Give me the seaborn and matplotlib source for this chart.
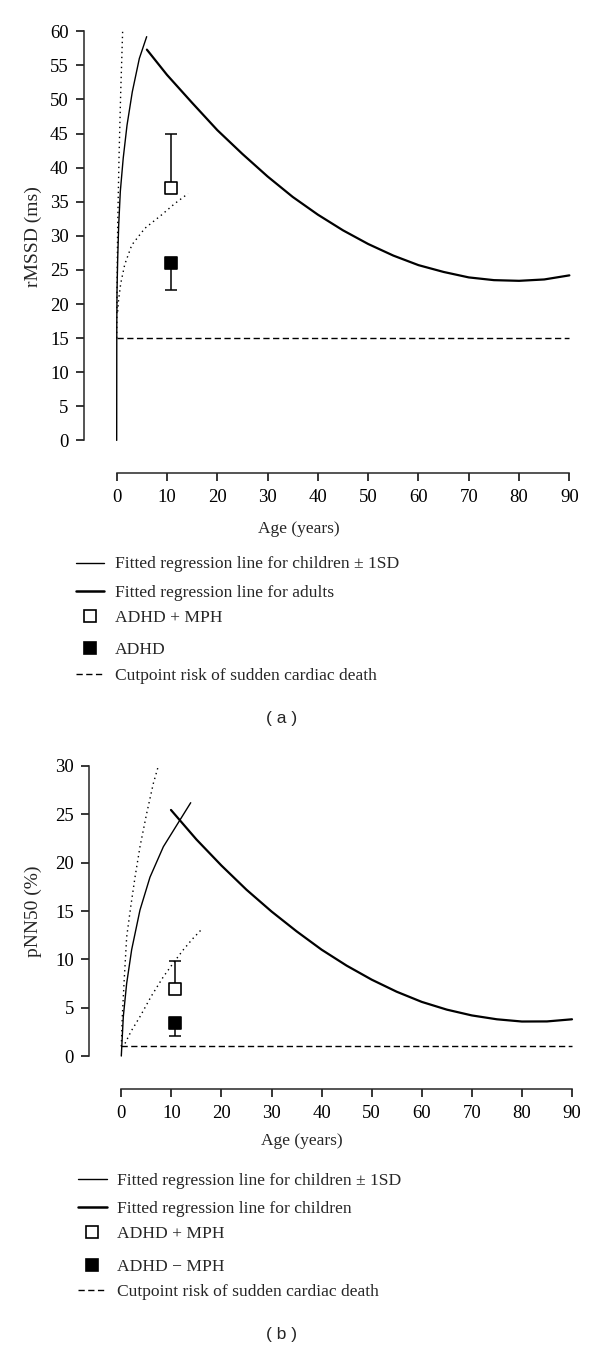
import seaborn as sns
import matplotlib.pyplot as plt
from matplotlib.lines import Line2D

# ---- panel (a): rMSSD ----
child_a_age = [0.0, 0.02, 0.06, 0.2, 0.4, 0.72, 1.3, 2.05, 3.1, 4.5, 5.96]
child_a_fit = [0.0, 16.9, 21.8, 26.7, 31.6, 36.5, 41.4, 46.2, 51.1, 56.0, 59.2]
upper_a_age = [0.0, 0.02, 0.06, 0.2, 0.46, 0.8, 1.19]
upper_a_fit = [15.0, 16.9, 21.8, 31.6, 41.4, 51.1, 60.2]
lower_a_age = [0.2, 0.33, 0.8, 1.6, 3.0, 5.6, 8.9, 11.5, 14.2]
lower_a_fit = [18.9, 20.3, 23.0, 25.8, 28.65, 31.1, 33.05, 34.7, 36.2]
adult_a_age = [6, 10, 15, 20, 25, 30, 35, 40, 45, 50, 55, 60, 65, 70, 75, 80, 85, 90]
adult_a_fit = [57.3, 53.6, 49.5, 45.5, 42.0, 38.7, 35.7, 33.1, 30.8, 28.8,
               27.1, 25.7, 24.7, 23.9, 23.5, 23.4, 23.6, 24.2]
mph_a = 37.0
mph_a_upper = 45.0
adhd_a = 26.0
adhd_a_lower = 22.0
cut_a = 15.0

# ---- panel (b): pNN50 ----
child_b_age = [0.0, 0.4, 1.07, 2.07, 3.73, 5.73, 8.4, 11.7, 13.86]
child_b_fit = [0.0, 4.07, 7.5, 11.0, 15.1, 18.5, 21.65, 24.4, 26.2]
upper_b_age = [0.0, 0.2, 0.54, 1.07, 1.87, 2.74, 3.73, 5.07, 6.4, 7.4]
upper_b_fit = [1.0, 4.07, 7.5, 12.3, 15.4, 18.5, 21.65, 25.1, 28.2, 30.0]
lower_b_age = [0.74, 2.0, 3.73, 6.0, 8.4, 10.5, 12.4, 14.2, 15.85]
lower_b_fit = [1.3, 2.6, 4.07, 6.2, 8.2, 9.7, 11.0, 12.1, 13.0]
adult_b_age = [9.92, 15, 20, 25, 30, 35, 40, 45, 50, 55, 60, 65, 70, 75, 80, 85, 90]
adult_b_fit = [25.45, 22.4, 19.7, 17.2, 14.95, 12.9, 11.0, 9.35, 7.9,
               6.65, 5.6, 4.8, 4.2, 3.8, 3.57, 3.58, 3.8]
mph_b = 6.9
mph_b_upper = 9.85
adhd_b = 3.38
adhd_b_lower = 2.1
cut_b = 1.0

adhd_age = 10.7
cut_age = [0, 90]
age_ticks = list(range(0, 91, 10))

legend_a = ["Fitted regression line for children \u00b1 1SD",
            "Fitted regression line for adults",
            "ADHD + MPH",
            "ADHD",
            "Cutpoint risk of sudden cardiac death"]
legend_b = ["Fitted regression line for children \u00b1 1SD",
            "Fitted regression line for children",
            "ADHD + MPH",
            "ADHD \u2212 MPH",
            "Cutpoint risk of sudden cardiac death"]

sns.set_theme(style="ticks")
plt.rcParams['font.family'] = ['Liberation Serif', 'DejaVu Serif']
plt.rcParams['axes.linewidth'] = 1.1

W, H = 600, 1351
fig = plt.figure(figsize=(W / 100, H / 100), dpi=100)

DOT = (0, (1, 2.6))
DASH = (0, (4.5, 2.5))


def box(left, top, right, bottom):
    return [left / W, 1 - bottom / H, (right - left) / W, (bottom - top) / H]


def draw_panel(ax, child, upper, lower, adult, mph, mph_up, adhd, adhd_lo, cut,
               yticks, ylabel):
    kw = dict(ax=ax, color='black', estimator=None, sort=False, legend=False)
    sns.lineplot(x=child[0], y=child[1], linewidth=1.0, **kw)
    sns.lineplot(x=upper[0], y=upper[1], linewidth=1.0, linestyle=DOT, **kw)
    sns.lineplot(x=lower[0], y=lower[1], linewidth=1.0, linestyle=DOT, **kw)
    sns.lineplot(x=adult[0], y=adult[1], linewidth=1.6, **kw)
    sns.lineplot(x=cut_age, y=[cut, cut], linewidth=1.0, linestyle=DASH, **kw)

    ax.errorbar([adhd_age], [mph], yerr=[[0], [mph_up - mph]], fmt='none',
                ecolor='black', elinewidth=1.1, capsize=4.2, capthick=1.1, zorder=3)
    ax.errorbar([adhd_age], [adhd], yerr=[[adhd - adhd_lo], [0]], fmt='none',
                ecolor='black', elinewidth=1.1, capsize=4.2, capthick=1.1, zorder=3)
    sns.scatterplot(x=[adhd_age], y=[mph], marker='s', s=72, color='white',
                    edgecolor='black', linewidth=1.2, ax=ax, zorder=4, legend=False)
    sns.scatterplot(x=[adhd_age], y=[adhd], marker='s', s=72, color='black',
                    edgecolor='black', linewidth=1.2, ax=ax, zorder=4, legend=False)

    sns.despine(ax=ax)
    ax.spines['left'].set_bounds(yticks[0], yticks[-1])
    ax.spines['bottom'].set_bounds(age_ticks[0], age_ticks[-1])
    ax.set_xticks(age_ticks)
    ax.set_yticks(yticks)
    ax.tick_params(direction='out', length=6, width=1.1, labelsize=13.5,
                   pad=5, colors='black')
    ax.tick_params(axis='x', pad=5.5)
    ax.set_xlabel("Age (years)", fontsize=12.5)
    ax.set_ylabel(ylabel, fontsize=14)
    ax.grid(False)


def draw_legend(labels, rows, x0, x1, xsq, xtext):
    lines = [dict(lw=1.0, ls='-'), dict(lw=1.8, ls='-'), None, None, dict(lw=1.0, ls=DASH)]
    for i, (lab, yp) in enumerate(zip(labels, rows)):
        y = 1 - yp / H
        if i == 2 or i == 3:
            fig.add_artist(Line2D([xsq / W], [y], marker='s', markersize=8.2,
                                  markerfacecolor='white' if i == 2 else 'black',
                                  markeredgecolor='black', markeredgewidth=1.2,
                                  linestyle='none', transform=fig.transFigure))
        else:
            st = lines[i]
            fig.add_artist(Line2D([x0 / W, x1 / W], [y, y], color='black',
                                  linewidth=st['lw'], linestyle=st['ls'],
                                  transform=fig.transFigure))
        fig.text(xtext / W, 1 - (yp + 5.8) / H, lab, fontsize=12.6,
                 ha='left', va='baseline')


# panel (a)
ax_a = fig.add_axes(box(84, 24.4, 574.4, 473))
draw_panel(ax_a, (child_a_age, child_a_fit), (upper_a_age, upper_a_fit),
           (lower_a_age, lower_a_fit), (adult_a_age, adult_a_fit),
           mph_a, mph_a_upper, adhd_a, adhd_a_lower, cut_a,
           list(range(0, 61, 5)), "rMSSD (ms)")
ax_a.set_xlim(-6.5, 91)
ax_a.set_ylim(-4.78, 61)
ax_a.xaxis.set_label_coords(0.4384, -0.107)
ax_a.yaxis.set_label_coords(-0.0856, 0.528)
draw_legend(legend_a, [562.7, 590.7, 615.7, 648.3, 674], 76, 104, 90, 115)
fig.text(281.7 / W, 1 - 719 / H, "( a )", fontsize=12.5, ha='center', va='center',
         family=['Liberation Sans', 'DejaVu Sans'])

# panel (b)
ax_b = fig.add_axes(box(89.3, 756.3, 577.0, 1089.3))
draw_panel(ax_b, (child_b_age, child_b_fit), (upper_b_age, upper_b_fit),
           (lower_b_age, lower_b_fit), (adult_b_age, adult_b_fit),
           mph_b, mph_b_upper, adhd_b, adhd_b_lower, cut_b,
           list(range(0, 31, 5)), "pNN50 (%)")
ax_b.set_xlim(-6.39, 91)
ax_b.set_ylim(-3.44, 31)
ax_b.xaxis.set_label_coords(0.436, -0.131)
ax_b.yaxis.set_label_coords(-0.097, 0.535)
draw_legend(legend_b, [1179.3, 1207.3, 1231.7, 1265, 1290], 78, 107, 92.3, 116.7)
fig.text(281.7 / W, 1 - 1335 / H, "( b )", fontsize=12.5, ha='center', va='center',
         family=['Liberation Sans', 'DejaVu Sans'])

fig.savefig("out.png", dpi=100, facecolor='white')
